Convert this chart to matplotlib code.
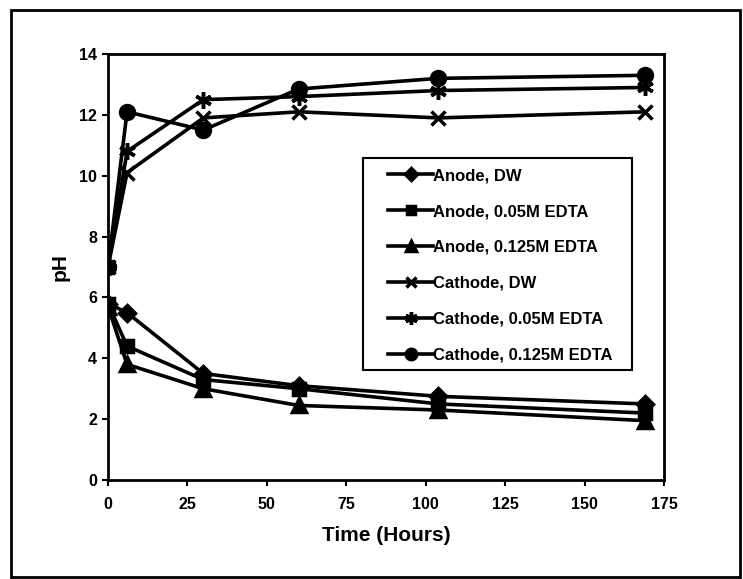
import matplotlib
matplotlib.use('Agg')
import matplotlib.pyplot as plt

# pH over time
time_h = [0, 6, 30, 60, 104, 169]
anode_dw = [5.8, 5.5, 3.5, 3.1, 2.75, 2.5]
anode_005 = [5.8, 4.4, 3.3, 3.0, 2.5, 2.2]
anode_0125 = [5.7, 3.8, 3.0, 2.45, 2.3, 1.95]
cathode_dw = [7.0, 10.1, 11.9, 12.1, 11.9, 12.1]
cathode_005 = [7.0, 10.8, 12.5, 12.6, 12.8, 12.9]
cathode_0125 = [7.0, 12.1, 11.5, 12.85, 13.2, 13.3]

labels = ["Anode, DW", "Anode, 0.05M EDTA", "Anode, 0.125M EDTA",
          "Cathode, DW", "Cathode, 0.05M EDTA", "Cathode, 0.125M EDTA"]
series = [anode_dw, anode_005, anode_0125, cathode_dw, cathode_005, cathode_0125]
markers = ["D", "s", "^", "x", (6, 2, 0), "o"]
msizes = [8, 8, 10, 10, 12, 10]

x_ticks = [0, 25, 50, 75, 100, 125, 150, 175]
y_ticks = [0, 2, 4, 6, 8, 10, 12, 14]

plt.rcParams['font.family'] = ['Liberation Sans', 'DejaVu Sans']
plt.rcParams['font.weight'] = 'bold'

fig = plt.figure(figsize=(7.43, 5.79), dpi=100)
ax = fig.add_axes([108 / 743, 99 / 579, 556 / 743, 426 / 579])

for vals, lab, mk, ms in zip(series, labels, markers, msizes):
    ax.plot(time_h, vals, color="black", linewidth=2.6, marker=mk,
            markersize=ms, markeredgewidth=2.5, label=lab)

ax.set_xlim(0, 175)
ax.set_ylim(0, 14)
ax.set_xticks(x_ticks)
ax.set_yticks(y_ticks)
ax.tick_params(direction="out", length=4, width=1.5, labelsize=11.5)
ax.tick_params(axis="x", pad=8)
ax.tick_params(axis="y", pad=4)
for lbl in ax.get_xticklabels() + ax.get_yticklabels():
    lbl.set_fontweight("bold")
for sp in ax.spines.values():
    sp.set_linewidth(2)

ax.set_xlabel("Time (Hours)", fontsize=15, fontweight="bold", labelpad=10)
ax.set_ylabel("pH", fontsize=15, fontweight="bold", labelpad=7)

# legend entries without frame; the box is drawn separately so the
# handles can sit further in from its left edge, as in the original
leg = ax.legend(loc="upper left", bbox_to_anchor=(0.5036, 0.732),
                fontsize=12, frameon=False, borderpad=0,
                labelspacing=1.25, handlelength=2.7, handletextpad=0.0,
                borderaxespad=0, markerscale=0.75)
for t in leg.get_texts():
    t.set_fontweight("bold")
legend_box = plt.Rectangle((0.4586, 0.258), 0.4838, 0.498,
                           transform=ax.transAxes, fill=False,
                           edgecolor="black", linewidth=1.5, zorder=4)
ax.add_patch(legend_box)

# outer border around the whole chart
border = plt.Rectangle((11 / 743, 2 / 579), 729 / 743, 567 / 579,
                       transform=fig.transFigure, fill=False,
                       edgecolor="black", linewidth=2)
fig.patches.append(border)

fig.savefig("out.png", dpi=100)
plt.close(fig)
